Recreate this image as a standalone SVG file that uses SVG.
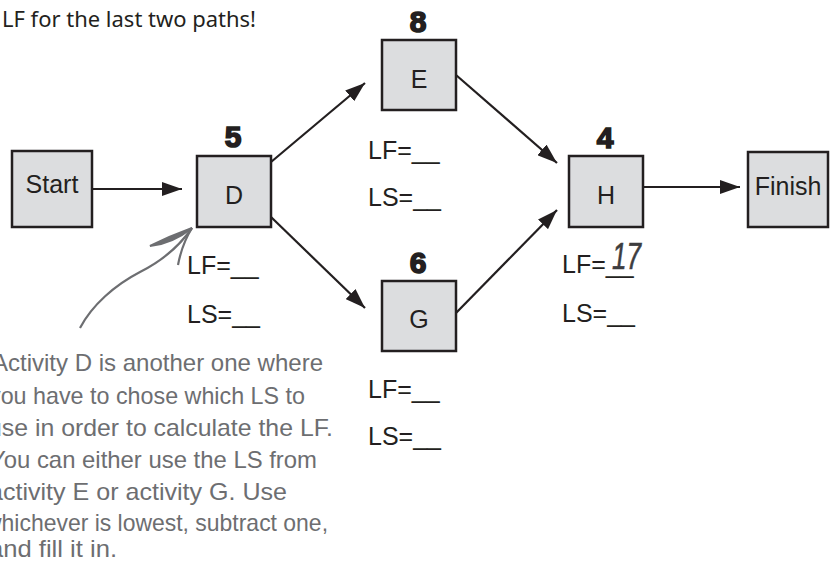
<svg xmlns="http://www.w3.org/2000/svg" width="830" height="566" viewBox="0 0 830 566">
<defs>
<marker id="ah" markerWidth="21" markerHeight="14" refX="20" refY="7" orient="auto" markerUnits="userSpaceOnUse">
<path d="M0,0 L20,7 L0,14 Z" fill="#231f20"/>
</marker>
<style>
.box{fill:#dcdddf;stroke:#231f20;stroke-width:2.5}
.lbl{font-family:"Liberation Sans",Arial,sans-serif;font-size:25px;fill:#231f20;text-anchor:middle}
.num{font-family:"Liberation Sans",Arial,sans-serif;font-size:30px;font-weight:bold;fill:#231f20;stroke:#231f20;stroke-width:1.6;text-anchor:middle}
.fld{font-family:"Liberation Sans",Arial,sans-serif;font-size:25px;fill:#231f20}
.hand{font-family:"Liberation Sans",Arial,sans-serif;font-size:24px;fill:#6d6e71}
.conn{stroke:#231f20;stroke-width:2.2;fill:none;marker-end:url(#ah)}
</style>
</defs>
<rect width="830" height="566" fill="#ffffff"/>
<text x="2" y="27" font-family="'Noto Sans','Open Sans',sans-serif" font-size="21" fill="#231f20" textLength="254" lengthAdjust="spacingAndGlyphs">LF for the last two paths!</text>

<g id="connectors">
<line class="conn" x1="92" y1="189" x2="182" y2="189"/>
<line class="conn" x1="271" y1="162" x2="365" y2="83"/>
<line class="conn" x1="271" y1="217" x2="365" y2="308"/>
<line class="conn" x1="456" y1="75" x2="557" y2="163"/>
<line class="conn" x1="456" y1="313" x2="557" y2="210"/>
<line class="conn" x1="643" y1="187" x2="740" y2="187"/>
</g>

<g id="start">
<rect class="box" x="12" y="151" width="80" height="76"/>
<text class="lbl" x="52" y="193">Start</text>
</g>

<g id="D">
<rect class="box" x="197" y="156" width="74" height="71"/>
<text class="lbl" x="234" y="204">D</text>
<text class="num" x="233" y="147">5</text>
<text class="fld" x="187" y="274">LF=__</text>
<text class="fld" x="187" y="323">LS=__</text>
</g>

<g id="E">
<rect class="box" x="382" y="40" width="74" height="70"/>
<text class="lbl" x="419" y="88">E</text>
<text class="num" x="418" y="32">8</text>
<text class="fld" x="368" y="159">LF=__</text>
<text class="fld" x="368" y="206">LS=__</text>
</g>

<g id="G">
<rect class="box" x="382" y="281" width="74" height="70"/>
<text class="lbl" x="419" y="328">G</text>
<text class="num" x="418" y="273">6</text>
<text class="fld" x="368" y="398">LF=__</text>
<text class="fld" x="368" y="445">LS=__</text>
</g>

<g id="H">
<rect class="box" x="569" y="156" width="74" height="71"/>
<text class="lbl" x="606" y="204">H</text>
<text class="num" x="605" y="148">4</text>
<text class="fld" x="562" y="273">LF=__</text>
<text x="612" y="269" font-family="'Liberation Sans',Arial,sans-serif" font-size="37" font-style="italic" fill="#3d3d3f" stroke="#3d3d3f" stroke-width="0.6" textLength="29" lengthAdjust="spacingAndGlyphs">17</text>
<text class="fld" x="562" y="322">LS=__</text>
</g>

<g id="finish">
<rect class="box" x="748" y="152" width="80" height="75"/>
<text class="lbl" x="788" y="195">Finish</text>
</g>

<g id="note">
<path d="M80,328 C92,305 115,285 140,272 C160,262 178,248 192,228" stroke="#6d6e71" stroke-width="2.2" fill="none"/>
<path d="M150,246 Q170,236 192,228 Q172,244 150,246 Z" fill="#6d6e71" stroke="#6d6e71" stroke-width="2"/>
<path d="M192,228 Q182,244 178,265" stroke="#6d6e71" stroke-width="2.2" fill="none"/>
<text class="hand" x="-8" y="371" textLength="331" lengthAdjust="spacingAndGlyphs">Activity D is another one where</text>
<text class="hand" x="-11" y="404" textLength="316" lengthAdjust="spacingAndGlyphs">you have to chose which LS to</text>
<text class="hand" x="-12" y="436" textLength="345" lengthAdjust="spacingAndGlyphs">use in order to calculate the LF.</text>
<text class="hand" x="-10" y="468" textLength="327" lengthAdjust="spacingAndGlyphs">You can either use the LS from</text>
<text class="hand" x="-11" y="500" textLength="298" lengthAdjust="spacingAndGlyphs">activity E or activity G. Use</text>
<text class="hand" x="-15" y="531" textLength="343" lengthAdjust="spacingAndGlyphs">whichever is lowest, subtract one,</text>
<text class="hand" x="-11" y="557" textLength="128" lengthAdjust="spacingAndGlyphs">and fill it in.</text>
</g>
</svg>
